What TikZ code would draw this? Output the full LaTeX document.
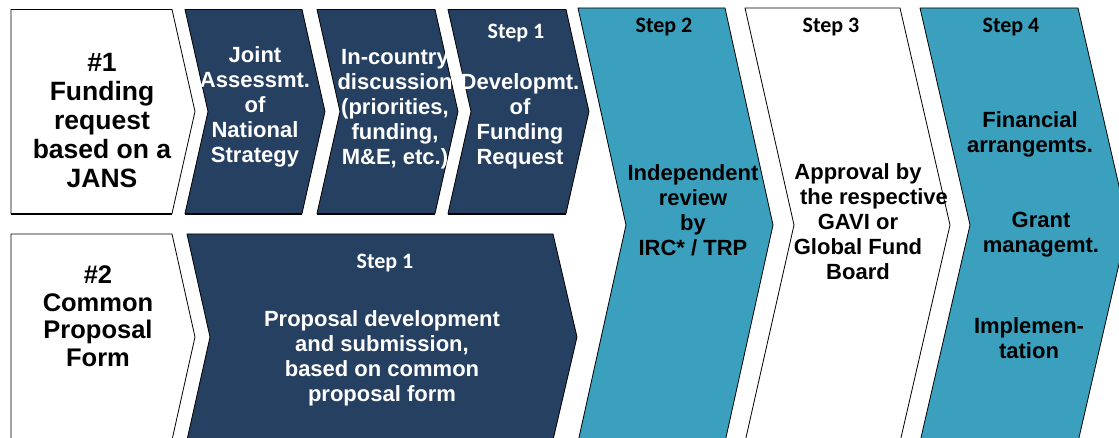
\documentclass[tikz,border=0pt]{standalone}
\usepackage{fontspec}
\setmainfont{Liberation Sans}
\newfontfamily\stepfont{Carlito}
\definecolor{navy}{RGB}{38,64,97}
\definecolor{teal}{RGB}{58,160,190}
\tikzset{
  shp/.style={draw=black, line width=0.8pt, line join=miter},
  navyshape/.style={shp, fill=navy},
  tealshape/.style={shp, fill=teal},
  whiteshape/.style={shp, fill=white},
  baseedge/.style={draw=black, line width=2pt},
  txt/.style={align=center, inner sep=0pt, font=\bfseries\fontsize{22}{25}\selectfont},
  wtxt/.style={txt, text=white},
  btxt/.style={txt, text=black},
  steplbl/.style={inner sep=0pt, font=\stepfont\bfseries\fontsize{22}{26}\selectfont},
}
\begin{document}
\begin{tikzpicture}[x=1pt, y=-1pt]
\useasboundingbox (0,0) rectangle (1119,438);
\clip (0,0) rectangle (1119,438);
% top row
\draw[whiteshape] (11,9.5) -- (172,9.5) -- (195,111.5) -- (172,213.5) -- (11,213.5) -- cycle;
\draw[navyshape] (185,9.5) -- (302,9.5) -- (325,111.5) -- (302,213.5) -- (185,213.5) -- (208,111.5) -- cycle;
\draw[navyshape] (317,9.5) -- (435,9.5) -- (458,111.5) -- (435,213.5) -- (317,213.5) -- (340,111.5) -- cycle;
\draw[navyshape] (448,9.5) -- (566,9.5) -- (589,111.5) -- (566,213.5) -- (448,213.5) -- (471,111.5) -- cycle;
\draw[baseedge] (11,214) -- (172,214) (185,214) -- (302,214) (317,214) -- (435,214) (448,214) -- (566,214);
% tall steps
\draw[tealshape] (578,8) -- (725,8) -- (773,225) -- (725,442) -- (578,442) -- (626,225) -- cycle;
\draw[whiteshape] (745,8) -- (900,8) -- (950,225) -- (900,442) -- (745,442) -- (794,225) -- cycle;
\draw[tealshape] (920,8) -- (1078,8) -- (1128,225) -- (1078,442) -- (920,442) -- (970,225) -- cycle;
% bottom row
\draw[whiteshape] (11,234) -- (172,234) -- (195,337) -- (172,440) -- (11,440) -- cycle;
\draw[navyshape] (187,234) -- (553,234) -- (577,337) -- (553,440) -- (187,440) -- (210,337) -- cycle;
% texts
\node[btxt, font=\bfseries\fontsize{26.5}{29}\selectfont] (t1) at (102,121) {\#1\\Funding\\request\\based on a\\JANS};
\node[wtxt] (tA) at (255,107) {Joint\\Assessmt.\\of\\National\\Strategy};
\node[wtxt] (tB) at (395,109) {In-country\\discussion\\(priorities,\\funding,\\M\&E, etc.)};
\node[steplbl, text=white] (sC) at (516,33) {Step 1};
\node[wtxt] (tC) at (520,121) {Developmt.\\of\\Funding\\Request};
\node[steplbl] (s2) at (664,27) {Step 2};
\node[btxt] (t2) at (693,210) {Independent\\review\\by\\IRC* / TRP};
\node[steplbl] (s3) at (831,27) {Step 3};
\node[btxt] (t3) at (858,222) {Approval by\\\hspace*{32pt}the respective\\GAVI or\\Global Fund\\Board};
\node[steplbl] (s4) at (1011,27) {Step 4};
\node[btxt] (t4a) at (1030,134) {Financial\\arrangemts.};
\node[btxt] (t4b) at (1041,235) {Grant\\managemt.};
\node[btxt] (t4c) at (1029,338) {Implemen-\\tation};
\node[btxt, font=\bfseries\fontsize{25.5}{27.5}\selectfont] (t2b) at (98,316) {\#2\\Common\\Proposal\\Form};
\node[steplbl, text=white] (sB) at (385,263) {Step 1};
\node[wtxt] (tBig) at (382,358) {Proposal development\\and submission,\\based on common\\proposal form};
\end{tikzpicture}
\end{document}
